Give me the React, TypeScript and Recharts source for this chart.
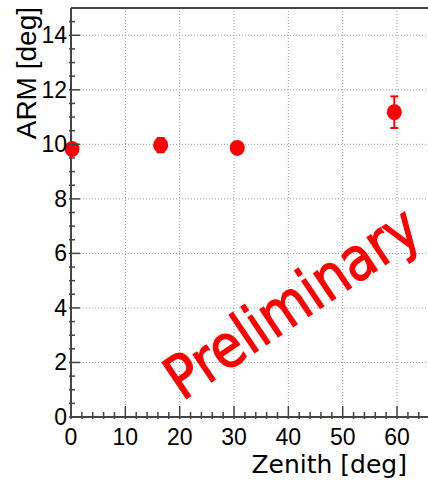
import React from 'react';
import { ScatterChart, Scatter, XAxis, YAxis, CartesianGrid, ErrorBar, ReferenceLine, ReferenceDot } from 'recharts';

// values
const zenith = [0.2, 16.5, 30.6, 59.5];
const arm = [9.83, 9.97, 9.87, 11.18];
const armErr = [0.1, 0.26, 0.1, 0.58];

const xTicks = [0, 2, 4, 6, 8, 10, 12, 14, 16, 18, 20, 22, 24, 26, 28, 30, 32, 34, 36, 38, 40, 42, 44, 46, 48, 50, 52, 54, 56, 58, 60, 62, 64];
const xMajor = [0, 10, 20, 30, 40, 50, 60];
const yTicks = [0, 0.5, 1, 1.5, 2, 2.5, 3, 3.5, 4, 4.5, 5, 5.5, 6, 6.5, 7, 7.5, 8, 8.5, 9, 9.5, 10, 10.5, 11, 11.5, 12, 12.5, 13, 13.5, 14, 14.5];
const yMajor = [0, 2, 4, 6, 8, 10, 12, 14];

const data = zenith.map((z, i) => ({ x: z, y: arm[i], err: armErr[i] }));

const AXIS = '#444';
const TICK_FONT = '"Liberation Sans", Arial, sans-serif';

const XTick = (props: any) => {
  const { x, y, payload } = props;
  const major = payload.value % 10 === 0;
  return (
    <g>
      <line x1={x} x2={x} y1={y} y2={y - (major ? 13 : 7)} stroke={AXIS} strokeWidth={1.5} />
      {major && (
        <text x={x} y={y + 26} textAnchor="middle" fontSize={23} fontFamily={TICK_FONT} fill="#000">
          {payload.value}
        </text>
      )}
    </g>
  );
};

const YTick = (props: any) => {
  const { x, y, payload } = props;
  const major = payload.value % 2 === 0;
  return (
    <g>
      <line x1={x} x2={x + (major ? 11 : 6)} y1={y} y2={y} stroke={AXIS} strokeWidth={1.5} />
      {major && (
        <text x={x - 2} y={y + 8} textAnchor="end" fontSize={23} fontFamily={TICK_FONT} fill="#000">
          {payload.value}
        </text>
      )}
    </g>
  );
};

const Dot = (props: any) => <ellipse cx={props.cx} cy={props.cy} rx={7.5} ry={8} fill="#ff0000" />;

export default function App() {
  return (
    <div style={{ position: 'absolute', left: 0, top: 0, width: 428, height: 480, background: '#fff', overflow: 'hidden' }}>
      <ScatterChart width={428} height={480} margin={{ top: 8, right: 0, bottom: 0, left: 0 }}>
        <CartesianGrid
          stroke="#999"
          strokeDasharray="1 2"
          verticalValues={xMajor}
          horizontalValues={yMajor}
        />
        <XAxis
          type="number"
          dataKey="x"
          domain={[0, 65.7]}
          ticks={xTicks}
          interval={0}
          height={63}
          tickSize={0}
          tickLine={false}
          tick={<XTick />}
          axisLine={{ stroke: AXIS, strokeWidth: 2 }}
          label={{
            content: (p: any) => (
              <text
                x={p.viewBox.x + p.viewBox.width - 21}
                y={p.viewBox.y + 56}
                textAnchor="end"
                fontSize={25}
                fontFamily='"DejaVu Sans", sans-serif'
                fill="#000"
              >
                Zenith [deg]
              </text>
            ),
          }}
        />
        <YAxis
          type="number"
          dataKey="y"
          domain={[0, 15]}
          ticks={yTicks}
          interval={0}
          width={71}
          tickSize={0}
          tickLine={false}
          tick={<YTick />}
          axisLine={{ stroke: AXIS, strokeWidth: 2 }}
          label={{
            content: (p: any) => (
              <text
                x={36}
                y={p.viewBox.y - 1}
                transform={`rotate(-90 36 ${p.viewBox.y - 1})`}
                textAnchor="end"
                fontSize={28}
                fontFamily={TICK_FONT}
                fill="#000"
              >
                ARM [deg]
              </text>
            ),
          }}
        />
        <ReferenceLine y={15} stroke={AXIS} strokeWidth={2} />
        <ReferenceDot
          x={40.6}
          y={4.2}
          r={0}
          shape={(p: any) => (
            <text
              x={p.cx}
              y={p.cy}
              transform={`rotate(-34 ${p.cx} ${p.cy})`}
              textAnchor="middle"
              dominantBaseline="central"
              fontSize={60}
              fontFamily='"DejaVu Sans", sans-serif'
              fill="#ff0000"
              stroke="#ff0000"
              strokeWidth={1.2}
              textLength={292}
              lengthAdjust="spacingAndGlyphs"
            >
              Preliminary
            </text>
          )}
        />
        <Scatter data={data} dataKey="y" fill="#ff0000" shape={<Dot />} isAnimationActive={false}>
          <ErrorBar dataKey="err" direction="y" stroke="#ff0000" strokeWidth={2} width={4} />
        </Scatter>
      </ScatterChart>
    </div>
  );
}
